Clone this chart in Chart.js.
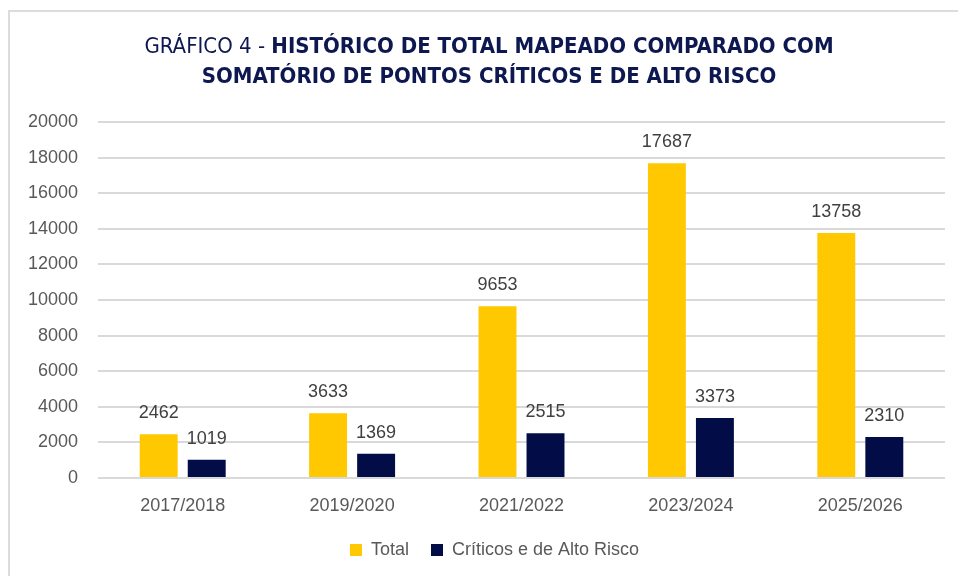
<!DOCTYPE html>
<html>
<head>
<meta charset="utf-8">
<script src="https://cdn.jsdelivr.net/npm/chart.js@4"></script>
<style>
  html, body { margin: 0; padding: 0; background: #fff; }
  #wrap { position: relative; width: 958px; height: 576px; overflow: hidden; }
  #frame {
    position: absolute; left: 8px; top: 10px; width: 980px; height: 600px;
    border-top: 2px solid #dcdcdc; border-left: 2px solid #dcdcdc;
  }
  #title {
    position: absolute; left: 0; top: 31px; width: 978px; text-align: center;
    font-family: "DejaVu Sans Condensed", sans-serif;
    font-size: 22px; line-height: 30px; color: #0d1850;
  }
  #title b { font-weight: bold; }
  #chart { position: absolute; left: 0; top: 0; }
</style>
</head>
<body>
<div id="wrap">
  <div id="frame"></div>
  <canvas id="chart" width="958" height="576"></canvas>
  <div id="title">GRÁFICO 4 - <b>HISTÓRICO DE TOTAL MAPEADO COMPARADO COM</b><br><b>SOMATÓRIO DE PONTOS CRÍTICOS E DE ALTO RISCO</b></div>
</div>
<script>
const periods = ["2017/2018", "2019/2020", "2021/2022", "2023/2024", "2025/2026"];
const total = [2462, 3633, 9653, 17687, 13758];
const criticos = [1019, 1369, 2515, 3373, 2310];
const yTicks = [0, 2000, 4000, 6000, 8000, 10000, 12000, 14000, 16000, 18000, 20000];

const TEXT = "#595959";
const FONT = "'Liberation Sans', Arial, sans-serif";

// valores acima das barras
const barLabels = {
  id: "barLabels",
  afterDatasetsDraw(chart) {
    const ctx = chart.ctx;
    ctx.save();
    ctx.font = "18px " + FONT;
    ctx.fillStyle = "#404040";
    ctx.textAlign = "center";
    ctx.textBaseline = "bottom";
    chart.data.datasets.forEach((ds, i) => {
      chart.getDatasetMeta(i).data.forEach((bar, j) => {
        ctx.fillText(String(ds.data[j]), bar.x, bar.y - 12);
      });
    });
    ctx.restore();
  }
};

// legenda centrada na área do gráfico, não no canvas
const legendShift = {
  id: "legendShift",
  afterLayout(chart) {
    if (chart.legend) chart.legend.left += 44;
  }
};

new Chart(document.getElementById("chart"), {
  type: "bar",
  data: {
    labels: periods,
    datasets: [
      { label: "Total", data: total, backgroundColor: "#ffc800" },
      { label: "Críticos e de Alto Risco", data: criticos, backgroundColor: "#020c46" }
    ]
  },
  options: {
    responsive: false,
    animation: false,
    layout: { padding: { top: 122, right: 13, bottom: 7, left: 0 } },
    datasets: { bar: { categoryPercentage: 0.567, barPercentage: 0.79 } },
    plugins: {
      legend: {
        position: "bottom",
        labels: {
          boxWidth: 12, boxHeight: 12, padding: 22,
          color: TEXT, font: { family: FONT, size: 18 }
        }
      },
      tooltip: { enabled: false },
      title: { display: false }
    },
    scales: {
      x: {
        grid: { display: false },
        border: { display: false },
        ticks: { color: TEXT, padding: 9, font: { family: FONT, size: 18 } },
        afterFit(s) { s.height = 41; }
      },
      y: {
        min: 0, max: 20000,
        afterBuildTicks(s) { s.ticks = yTicks.map(v => ({ value: v })); },
        grid: { color: "#d9d9d9", lineWidth: 2, drawTicks: false },
        border: { display: false },
        ticks: {
          color: TEXT, padding: 20, font: { family: FONT, size: 18 },
          callback: v => String(v)
        },
        afterFit(s) { s.width = 98; }
      }
    }
  },
  plugins: [barLabels, legendShift]
});
</script>
</body>
</html>
